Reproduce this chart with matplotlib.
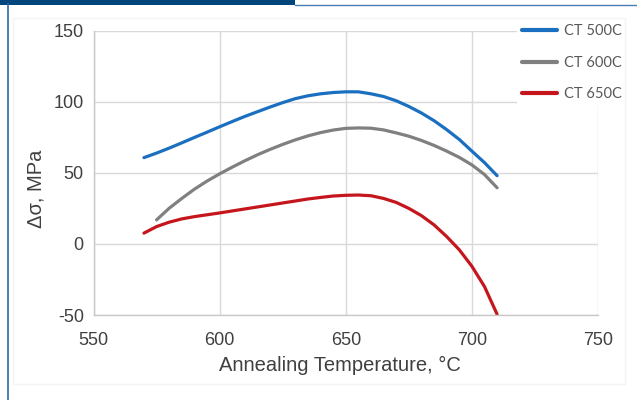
import numpy as np
import matplotlib
matplotlib.use("Agg")
import matplotlib.pyplot as plt
from matplotlib.patches import Rectangle
from matplotlib.lines import Line2D

plt.rcParams["axes.unicode_minus"] = False

# values (every 5 degrees)
temp_500 = [570, 575, 580, 585, 590, 595, 600, 605, 610, 615, 620, 625, 630, 635, 640, 645,
            650, 655, 660, 665, 670, 675, 680, 685, 690, 695, 700, 705, 710]
ds_500 = [60.7, 63.9, 67.4, 71.1, 74.9, 78.6, 82.4, 86.1, 89.7, 93, 96.3, 99.4, 102.2, 104.2,
          105.6, 106.5, 107, 107, 105.6, 103.7, 100.7, 96.7, 92.1, 86.7, 80.4, 73.5, 65.3,
          57.2, 48]

temp_600 = [575, 580, 585, 590, 595, 600, 605, 610, 615, 620, 625, 630, 635, 640, 645,
            650, 655, 660, 665, 670, 675, 680, 685, 690, 695, 700, 705, 710]
ds_600 = [16.9, 25.1, 32, 38.5, 44.2, 49.3, 54, 58.5, 62.7, 66.5, 70, 73.2, 76, 78.3, 80.1,
          81.3, 81.6, 81.4, 80.2, 78.1, 75.8, 72.8, 69.3, 65.3, 60.9, 55.6, 48.8, 39.5]

temp_650 = [570, 575, 580, 585, 590, 595, 600, 605, 610, 615, 620, 625, 630, 635, 640, 645,
            650, 655, 660, 665, 670, 675, 680, 685, 690, 695, 700, 705, 710]
ds_650 = [7.6, 12.2, 15.3, 17.6, 19.2, 20.5, 21.8, 23.2, 24.6, 26, 27.4, 28.8, 30.2, 31.6,
          32.7, 33.7, 34.2, 34.4, 33.9, 32, 29.2, 25, 19.9, 13.4, 5.2, -4.1, -15.7, -30, -49.5]

series_labels = ["CT 500C", "CT 600C", "CT 650C"]
series_colors = ["#1b6fc0", "#808080", "#c4161c"]
x_ticks = [550, 600, 650, 700, 750]
y_ticks = [-50, 0, 50, 100, 150]

W, H = 637, 400
fig = plt.figure(figsize=(W / 100, H / 100), dpi=100)
fig.patch.set_facecolor("white")

# page decoration around the chart
fig.add_artist(Rectangle((0, 1 - 5 / H), 295 / W, 5 / H, transform=fig.transFigure,
                         facecolor="#00457c", edgecolor="none"))
fig.add_artist(Line2D([295 / W, 1], [1 - 4.5 / H, 1 - 4.5 / H], transform=fig.transFigure,
                      color="#4a7fb5", lw=1))
fig.add_artist(Line2D([7.5 / W, 7.5 / W], [0, 1 - 4 / H], transform=fig.transFigure,
                      color="#2a6aa8", lw=1.2))
fig.add_artist(Rectangle((13 / W, 16 / H), 612 / W, 366 / H, transform=fig.transFigure,
                         facecolor="none", edgecolor="#f4f4f4", lw=1))

left, right, top, bottom = 93.5, 598, 30.7, 315
ax = fig.add_axes([left / W, 1 - bottom / H, (right - left) / W, (bottom - top) / H])

lines = []
for t, v, lab, c in zip([temp_500, temp_600, temp_650], [ds_500, ds_600, ds_650],
                        series_labels, series_colors):
    ln, = ax.plot(t, v, color=c, lw=2.3, label=lab, solid_capstyle="round",
                  solid_joinstyle="round")
    lines.append(ln)

ax.set_xlim(550, 750)
ax.set_ylim(-50, 150)
ax.set_xticks(x_ticks)
ax.set_yticks(y_ticks)
ax.grid(True, color="#d9d9d9", lw=1)
ax.set_axisbelow(True)
for s in ["top", "right"]:
    ax.spines[s].set_visible(False)
for s in ["left", "bottom"]:
    ax.spines[s].set_color("#c8c8c8")
    ax.spines[s].set_linewidth(1)

ax.tick_params(length=0)
ax.tick_params(axis="x", pad=12)
ax.tick_params(axis="y", pad=7)
for lab in ax.get_xticklabels() + ax.get_yticklabels():
    lab.set_fontfamily(["Liberation Sans", "DejaVu Sans"])
    lab.set_fontsize(13)
    lab.set_color("#404040")

ax.set_xlabel("Annealing Temperature, °C", family=["Liberation Sans", "DejaVu Sans"],
              fontsize=14.5, color="#404040")
ax.set_ylabel("Δσ, MPa", family=["Liberation Sans", "DejaVu Sans"],
              fontsize=14.5, color="#404040")
ax.xaxis.label.set_verticalalignment("center")
ax.yaxis.label.set_verticalalignment("center")
ax.xaxis.set_label_coords((340 - left) / (right - left), -(365 - bottom) / (bottom - top))
ax.yaxis.set_label_coords(-(left - 36) / (right - left), (bottom - 189) / (bottom - top))

leg = ax.legend(handles=lines, loc="upper left", bbox_to_anchor=(517 / W, 1 - 19 / H),
                bbox_transform=fig.transFigure, frameon=True, fancybox=False,
                facecolor="white", edgecolor="none", framealpha=1,
                prop=dict(family=["Lato", "DejaVu Sans"], size=10.5),
                handlelength=2.4, handletextpad=0.45, labelspacing=1.2,
                borderpad=0.35, borderaxespad=0)
for t in leg.get_texts():
    t.set_color("#595959")
for h in leg.legend_handles:
    h.set_linewidth(3)

fig.savefig("out.png", dpi=100)
